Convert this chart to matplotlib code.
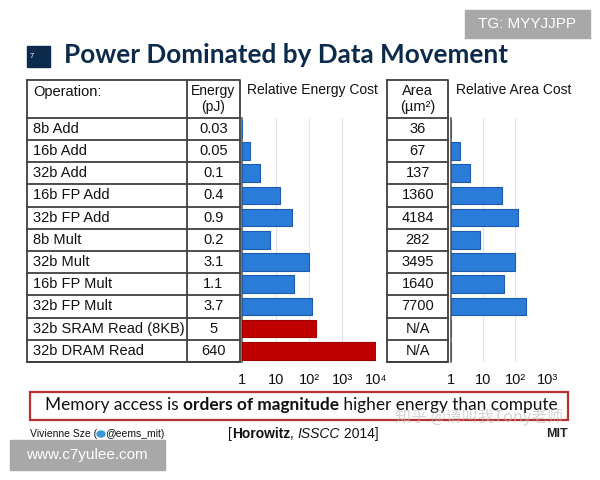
import matplotlib
matplotlib.use('Agg')
import matplotlib.pyplot as plt
from matplotlib.patches import Rectangle, Ellipse
from matplotlib.ticker import FixedLocator, NullLocator

# table data (Horowitz, ISSCC 2014)
operations = ['8b Add', '16b Add', '32b Add', '16b FP Add', '32b FP Add',
              '8b Mult', '32b Mult', '16b FP Mult', '32b FP Mult',
              '32b SRAM Read (8KB)', '32b DRAM Read']
energy_pj = [0.03, 0.05, 0.1, 0.4, 0.9, 0.2, 3.1, 1.1, 3.7, 5, 640]
energy_text = ['0.03', '0.05', '0.1', '0.4', '0.9', '0.2', '3.1', '1.1',
               '3.7', '5', '640']
area_um2 = [36, 67, 137, 1360, 4184, 282, 3495, 1640, 7700, None, None]
is_memory = [False] * 9 + [True, True]

energy_ticks = [1, 10, 100, 1000, 10000]
energy_tick_labels = ['1', '10', '10\u00b2', '10\u00b3', '10\u2074']
area_ticks = [1, 10, 100, 1000]
area_tick_labels = ['1', '10', '10\u00b2', '10\u00b3']

W, H = 600, 480
BLUE = '#2b7bd9'
BLUE_EDGE = '#1b5cae'
RED = '#c00000'
LINE = '#404040'
TXT = '#111111'
NAVY = '#0c2a4c'

plt.rcParams['font.family'] = ['Liberation Sans', 'DejaVu Sans']

fig = plt.figure(figsize=(6, 4.8), dpi=100)
fig.patch.set_facecolor('white')

# full figure overlay in pixel coords
ov = fig.add_axes([0, 0, 1, 1])
ov.set_xlim(0, W)
ov.set_ylim(H, 0)
ov.axis('off')


def px_axes(x0, y0, x1, y1):
    return fig.add_axes([x0 / W, 1 - y1 / H, (x1 - x0) / W, (y1 - y0) / H])


# ---- title ----
ov.add_patch(Rectangle((27, 46), 23, 21, color=NAVY))
ov.text(30, 56, '7', color='white', fontsize=5.5, va='center', ha='left')
ov.text(64, 55, 'Power Dominated by Data Movement', family='Lato',
        fontweight='bold', fontsize=18.8, color=NAVY, va='center', ha='left')

# ---- left table ----
top, head_bot, row_h = 80, 117.7, 22.2
n = len(operations)
bot = head_bot + n * row_h
tx0, tx1, tx2 = 27.3, 186.7, 240
lw = 1.3
ov.plot([tx0, tx2, tx2, tx0, tx0], [top, top, bot, bot, top], color=LINE, lw=lw)
ov.plot([tx1, tx1], [top, bot], color=LINE, lw=lw)
for i in range(n + 1):
    y = head_bot + i * row_h
    ov.plot([tx0, tx2], [y, y], color=LINE, lw=lw)
ov.text(33, 92, 'Operation:', fontsize=10.5, color=TXT, va='center')
ov.text((tx1 + tx2) / 2, 91, 'Energy', fontsize=10, color=TXT, ha='center', va='center')
ov.text((tx1 + tx2) / 2, 107, '(pJ)', fontsize=10, color=TXT, ha='center', va='center')
for i, (op, et) in enumerate(zip(operations, energy_text)):
    yc = head_bot + (i + 0.5) * row_h
    ov.text(33, yc, op, fontsize=10.5, color=TXT, va='center')
    ov.text((tx1 + tx2) / 2, yc, et, fontsize=10.5, color=TXT, ha='center', va='center')

# ---- area table ----
ax0, ax1 = 387.3, 448.3
ov.plot([ax0, ax1, ax1, ax0, ax0], [top, top, bot, bot, top], color=LINE, lw=lw)
for i in range(n + 1):
    y = head_bot + i * row_h
    ov.plot([ax0, ax1], [y, y], color=LINE, lw=lw)
ov.text((ax0 + ax1) / 2, 91, 'Area', fontsize=10.5, color=TXT, ha='center', va='center')
ov.text((ax0 + ax1) / 2, 107, '(\u00b5m\u00b2)', fontsize=10.5, color=TXT, ha='center', va='center')
for i, a in enumerate(area_um2):
    yc = head_bot + (i + 0.5) * row_h
    ov.text((ax0 + ax1) / 2, yc, 'N/A' if a is None else str(a),
            fontsize=10.5, color=TXT, ha='center', va='center')

ov.text(247, 90, 'Relative Energy Cost', fontsize=10, color=TXT, va='center')
ov.text(456, 90, 'Relative Area Cost', fontsize=10, color=TXT, va='center')


# ---- bar charts ----
def bar_panel(rect, values, colors, ticks, labels):
    ax = px_axes(*rect)
    ypos = list(range(len(values)))
    widths = [v - 1 if v is not None else 0 for v in values]
    ax.barh(ypos, widths, height=0.8, left=1, color=colors,
            edgecolor=[BLUE_EDGE if c == BLUE else '#9a0000' for c in colors],
            linewidth=0.8, zorder=3)
    ax.set_xscale('log')
    ax.set_xlim(ticks[0], ticks[-1])
    ax.set_ylim(len(values) - 0.5, -0.5)
    ax.xaxis.set_major_locator(FixedLocator(ticks))
    ax.xaxis.set_minor_locator(NullLocator())
    ax.set_xticklabels(labels, fontsize=10.5, color=TXT)
    ax.tick_params(axis='x', length=0, pad=8)
    ax.set_yticks([])
    ax.grid(axis='x', color='#e4e4e4', lw=0.8, zorder=0)
    for s in ['top', 'right', 'bottom']:
        ax.spines[s].set_visible(False)
    ax.spines['left'].set_color('#606060')
    ax.spines['left'].set_linewidth(1.2)
    ax.set_facecolor('none')
    return ax


rel_energy = [e / energy_pj[0] for e in energy_pj]
bar_colors = [RED if m else BLUE for m in is_memory]
bar_panel((242.3, head_bot, 375.7, bot), rel_energy, bar_colors,
          energy_ticks, energy_tick_labels)

rel_area = [a / area_um2[0] if a is not None else None for a in area_um2]
bar_panel((451, head_bot, 547.7, bot), rel_area, [BLUE] * n,
          area_ticks, area_tick_labels)

# ---- takeaway box ----
ov.add_patch(Rectangle((30, 392), 538, 28, fill=False, edgecolor='#b83030', lw=1.6))
fig.canvas.draw()
r = fig.canvas.get_renderer()
parts = [('Memory access is ', 'normal'), ('orders of magnitude', 'bold'),
         (' higher energy than compute', 'normal')]
x = 45
inv = ov.transData.inverted()
for s, w in parts:
    t = ov.text(x, 405, s, family='Lato', fontweight=w, fontsize=12.4,
                color=TXT, va='center', ha='left')
    bb = t.get_window_extent(r)
    x = inv.transform((bb.x1, bb.y0))[0]

# watermark over the box
ov.text(395, 417, '知乎 @请叫我Tony老师', family=['Noto Sans CJK SC', 'DejaVu Sans'],
        fontsize=11.5, color='#bbbbbb', alpha=0.6, va='center')

# ---- footer ----
ov.text(30, 434, 'Vivienne Sze (', fontsize=7.5, color=TXT, va='center')
ov.add_patch(Ellipse((101, 434), 8, 6, color='#3a9ad9'))
ov.text(105, 434, '@eems_mit)', fontsize=7.5, color=TXT, va='center')
x = 228
for s, w, st in [('[', 'normal', 'normal'), ('Horowitz', 'bold', 'normal'),
                 (', ', 'normal', 'normal'), ('ISSCC', 'normal', 'italic'),
                 (' 2014]', 'normal', 'normal')]:
    t = ov.text(x, 434, s, fontsize=10, fontweight=w, style=st, color=TXT, va='center')
    bb = t.get_window_extent(r)
    x = inv.transform((bb.x1, bb.y0))[0]
ov.text(568, 434, 'MIT', fontsize=9, fontweight='bold', color='#222222',
        ha='right', va='center')

# ---- corner stamps ----
ov.add_patch(Rectangle((465, 10), 125, 28, color='#a8a8a8'))
ov.text(527, 24, 'TG: MYYJJPP', fontsize=11, color='white', ha='center', va='center')
ov.add_patch(Rectangle((10, 440), 155, 30, color='#a8a8a8'))
ov.text(87, 455, 'www.c7yulee.com', fontsize=11, color='white', ha='center', va='center')

fig.savefig('out.png', dpi=100)
